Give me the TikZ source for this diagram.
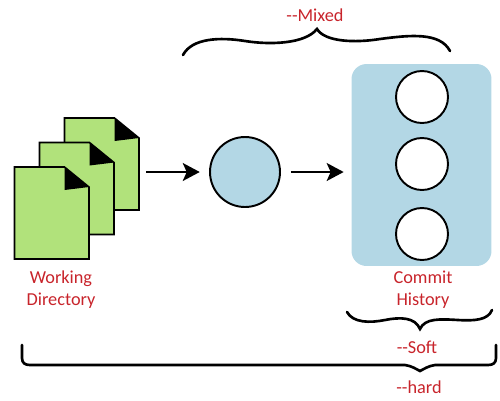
\documentclass[tikz,border=0pt]{standalone}
\usepackage{fontspec}
\setmainfont{Carlito}
\usepackage{tikz}
\usetikzlibrary{arrows,arrows.meta,positioning}
\definecolor{pagegreen}{HTML}{B1E27B}
\definecolor{paleblue}{HTML}{B3D7E5}
\definecolor{labelred}{HTML}{C8242B}
\tikzstyle{stage} = [circle, draw, line width=1.1pt, fill=paleblue, minimum size=1.4cm, inner sep=0pt]
\tikzstyle{commit} = [circle, draw, line width=1.1pt, fill=white, minimum size=1.04cm, inner sep=0pt]
\tikzstyle{history} = [rectangle, rounded corners=0.3cm, fill=paleblue, minimum width=2.8cm, minimum height=4.04cm]
\tikzstyle{label} = [text=labelred, font=\fontsize{10.4}{12.5}\selectfont, align=center, inner sep=0pt]
\tikzstyle{arrow} = [line width=1.1pt,-{Stealth[length=0.34cm,width=0.36cm,inset=0.08cm]}]
\tikzstyle{brace} = [line width=1.5pt, line cap=round]
\tikzstyle{sheet} = [draw, line width=0.9pt, fill=pagegreen, line join=miter]
% one sheet of paper with a folded corner, (#1) is its top left corner
\newcommand{\docsheet}[1]{
  \draw[sheet] (#1) -- ++(50,0) -- ++(24.5,20) -- ++(0,72) -- ++(-74.5,0) -- cycle;
  \fill[black] (#1) ++(50,0) -- ++(24.5,20) -- ++(-24.5,3) -- cycle;
}

\begin{document}
\begin{tikzpicture}[x=0.02cm, y=-0.02cm]
\useasboundingbox (0,0) rectangle (500,400);
\coordinate (sheet3) at (64.5,118);
\coordinate (sheet2) at (39.5,142.5);
\coordinate (sheet1) at (14.5,167);
\docsheet{sheet3}
\docsheet{sheet2}
\docsheet{sheet1}
\coordinate (docs) at (146,172);
\node[stage] (index) at (245,172) {};
\node[history] (hist) at (421.5,165) {};
\node[commit] (c1) at (422,97) {};
\node[commit] (c2) at (422,164) {};
\node[commit] (c3) at (422,234) {};
\node[label] (wd) at (61,290) {Working\\Directory};
\node[label] (ch) at (423,290) {Commit\\History};
\node[label] (mixed) at (315,15) {-{}-Mixed};
\node[label] (soft) at (417,347) {-{}-Soft};
\node[label] (hard) at (419,387) {-{}-hard};
\draw[arrow, shorten >=0.186cm] (docs) -- (index);
\draw[arrow, shorten <=0.2cm, shorten >=0.15cm] (index) -- (index -| hist.west);
% braces
\draw[brace] (183,55) .. controls (192,38) and (220,37) .. (245,41)
  .. controls (270,45) and (305,44) .. (317,29)
  .. controls (325,42) and (355,43) .. (380,39)
  .. controls (410,35) and (440,32) .. (450,51);
\draw[brace] (347,312) .. controls (353,323) and (370,323) .. (385,320)
  .. controls (400,317) and (415,317) .. (420,329)
  .. controls (425,318) and (440,319) .. (458,320)
  .. controls (475,321) and (488,320) .. (492,310);
\draw[brace] (22,345) -- (22,358) .. controls (22,363) and (25,365) .. (30,365)
  -- (405,365) .. controls (412,366) and (416,369) .. (420,371)
  .. controls (424,369) and (428,366) .. (435,365)
  -- (488,365) .. controls (493,365) and (496,363) .. (496,358) -- (496,345);
\end{tikzpicture}
\end{document}
